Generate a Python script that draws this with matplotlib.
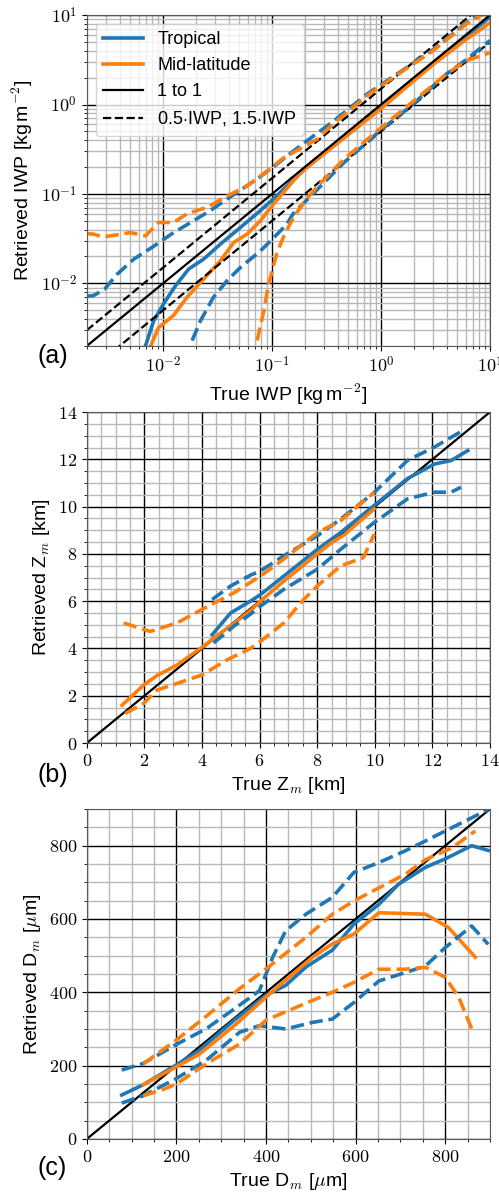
import matplotlib
matplotlib.use("Agg")
import matplotlib.pyplot as plt
import numpy as np
from matplotlib.ticker import (LogLocator, MultipleLocator, FuncFormatter,
                               NullFormatter)

plt.rcParams["font.family"] = ["Liberation Sans", "DejaVu Sans"]
plt.rcParams["mathtext.fontset"] = "cm"

BLUE = "#1f77b4"
ORANGE = "#ff7f0e"

# ---- panel (a): IWP [kg m-2]
a_trop_med_x = [0.0069, 0.0082, 0.0101, 0.013, 0.0172, 0.0236, 0.0336, 0.051, 0.078, 0.1, 0.2, 0.5, 1, 2, 5, 10]
a_trop_med_y = [0.002, 0.0038, 0.0059, 0.0094, 0.0145, 0.0187, 0.0275, 0.042, 0.065, 0.085, 0.19, 0.47, 0.93, 1.9, 4.8, 9.5]
a_mid_med_x = [0.0077, 0.0091, 0.0125, 0.0166, 0.0228, 0.0336, 0.0446, 0.059, 0.078, 0.104, 0.18, 0.26, 0.5, 1, 3, 6, 10]
a_mid_med_y = [0.002, 0.0032, 0.0044, 0.007, 0.0107, 0.0179, 0.0287, 0.0356, 0.05, 0.078, 0.17, 0.245, 0.46, 0.9, 2.8, 5.3, 8.2]
a_trop_up_x = [0.002, 0.0023, 0.0029, 0.0038, 0.0054, 0.0082, 0.0125, 0.019, 0.027, 0.041, 0.073, 0.111, 0.156, 0.237, 0.36, 0.74, 1.49, 3.0, 6.1, 8.1, 10]
a_trop_up_y = [0.0072, 0.0073, 0.0086, 0.0127, 0.0187, 0.026, 0.037, 0.05, 0.065, 0.092, 0.147, 0.216, 0.30, 0.44, 0.64, 1.3, 2.3, 4.1, 8.2, 10.5, 12]
a_mid_up_x = [0.002, 0.0023, 0.0028, 0.005, 0.0069, 0.0091, 0.0125, 0.0166, 0.0254, 0.0387, 0.059, 0.09, 0.126, 0.18, 0.26, 0.36, 0.74, 1.49, 3.0, 6.1, 8.1, 10]
a_mid_up_y = [0.036, 0.0356, 0.033, 0.037, 0.034, 0.048, 0.048, 0.060, 0.071, 0.095, 0.123, 0.18, 0.25, 0.32, 0.41, 0.6, 1.25, 2.25, 4.0, 8.0, 9.8, 11]
a_trop_lo_x = [0.0185, 0.022, 0.029, 0.0386, 0.051, 0.078, 0.1, 0.137, 0.156, 0.237, 0.45, 1, 1.84, 4.0, 6.1, 10]
a_trop_lo_y = [0.0023, 0.0038, 0.007, 0.0107, 0.015, 0.023, 0.031, 0.046, 0.06, 0.1, 0.22, 0.52, 0.94, 2.2, 3.2, 5.2]
a_mid_lo_x = [0.073, 0.084, 0.093, 0.111, 0.126, 0.156, 0.21, 0.275, 0.45, 1, 2, 4, 6.1, 10]
a_mid_lo_y = [0.0023, 0.0049, 0.0098, 0.022, 0.032, 0.054, 0.09, 0.13, 0.24, 0.55, 1.1, 2.2, 3.1, 3.8]

# ---- panel (b): Z_m [km]
b_trop_med_x = [4.35, 4.99, 5.68, 6.03, 6.84, 8.0, 8.81, 9.98, 11.14, 12.07, 12.65, 13.23]
b_trop_med_y = [4.58, 5.50, 6.0, 6.28, 7.06, 8.19, 8.9, 10.05, 11.19, 11.8, 11.95, 12.37]
b_mid_med_x = [1.22, 1.97, 2.43, 3.13, 4.0, 4.52, 5.1, 5.68, 6.03, 6.84, 8.0, 8.47, 8.93, 9.4, 9.98]
b_mid_med_y = [1.60, 2.45, 2.85, 3.3, 4.05, 4.55, 5.05, 5.6, 6.0, 6.85, 8.0, 8.45, 8.8, 9.3, 9.9]
b_trop_up_x = [4.35, 4.99, 5.68, 6.03, 6.84, 8.0, 8.81, 9.98, 11.14, 12.07, 12.99]
b_trop_up_y = [6.07, 6.64, 7.1, 7.28, 7.92, 8.76, 9.47, 10.6, 11.96, 12.52, 13.17]
b_trop_lo_x = [4.4, 5.1, 5.68, 6.03, 6.84, 8.0, 8.81, 9.98, 11.14, 12.07, 12.65, 12.99]
b_trop_lo_y = [4.23, 4.94, 5.45, 5.79, 6.5, 7.35, 8.19, 9.33, 10.33, 10.61, 10.61, 10.82]
b_mid_up_x = [1.28, 2.2, 3.13, 4.0, 5.1, 6.03, 6.84, 8.0, 8.81, 9.98]
b_mid_up_y = [5.08, 4.72, 5.08, 5.65, 6.35, 7.06, 7.78, 8.9, 9.4, 10.6]
b_mid_lo_x = [1.33, 1.97, 2.43, 3.13, 4.0, 4.87, 5.68, 6.03, 6.84, 7.53, 8.0, 8.81, 9.6, 9.98]
b_mid_lo_y = [1.25, 1.67, 2.24, 2.52, 2.88, 3.52, 4.0, 4.3, 5.08, 6.07, 6.64, 7.49, 7.84, 8.84]

# ---- panel (c): D_m [um]
c_trop_med_x = [78, 126, 200, 252, 330, 400, 444, 489, 548, 596, 652, 696, 756, 800, 859, 896]
c_trop_med_y = [120, 148, 202, 243, 325, 392, 419, 469, 515, 586, 640, 695, 741, 764, 800, 787]
c_mid_med_x = [126, 200, 252, 330, 400, 452, 504, 548, 596, 652, 756, 807, 867]
c_mid_med_y = [148, 197, 232, 310, 387, 442, 496, 532, 559, 617, 613, 577, 496]
c_trop_up_x = [78, 126, 200, 267, 341, 385, 415, 444, 489, 548, 596, 652, 711, 756, 800, 859, 896]
c_trop_up_y = [188, 206, 258, 301, 365, 404, 496, 568, 613, 659, 727, 754, 786, 813, 840, 876, 899]
c_trop_lo_x = [78, 126, 200, 267, 341, 385, 444, 504, 548, 596, 652, 711, 756, 800, 859, 896]
c_trop_lo_y = [98, 118, 165, 215, 291, 309, 300, 318, 327, 372, 431, 454, 472, 522, 581, 531]
c_mid_up_x = [126, 200, 267, 341, 400, 489, 548, 596, 652, 711, 756, 815, 867]
c_mid_up_y = [205, 270, 335, 410, 464, 550, 613, 649, 685, 722, 762, 794, 840]
c_mid_lo_x = [126, 170, 200, 267, 341, 400, 452, 504, 548, 596, 652, 711, 756, 800, 830, 859]
c_mid_lo_y = [118, 135, 150, 205, 259, 324, 351, 378, 400, 427, 463, 463, 468, 441, 387, 301]

LW_MED = 2.6
LW_Q = 2.6
LW_REF = 1.6
TICK_FS = 13
LABEL_FS = 14

fig = plt.figure(figsize=(4.99, 11.95), dpi=100)
left, width = 0.174, 0.808
ax_a = fig.add_axes([left, 0.7105, width, 0.2769])
ax_b = fig.add_axes([left, 0.3782, width, 0.2770])
ax_c = fig.add_axes([left, 0.0469, width, 0.2761])

num_fmt = FuncFormatter(lambda v, p: r"$%g$" % v)
log_fmt = FuncFormatter(lambda v, p: r"$10^{%d}$" % int(round(np.log10(v))))


def style(ax):
    ax.grid(True, which="major", color="black", lw=1.0)
    ax.grid(True, which="minor", color="0.72", lw=1.0)
    ax.set_axisbelow(True)
    ax.tick_params(labelsize=TICK_FS)
    for s in ax.spines.values():
        s.set_color("0.35")


# (a)
ax = ax_a
ax.set_xscale("log")
ax.set_yscale("log")
ref = np.array([0.002, 10.0])
ax.plot(a_trop_med_x, a_trop_med_y, color=BLUE, lw=LW_MED, label="Tropical")
ax.plot(a_mid_med_x, a_mid_med_y, color=ORANGE, lw=LW_MED, label="Mid-latitude")
ax.plot(ref, ref, color="black", lw=LW_REF, label="1 to 1")
ax.plot(ref, 0.5 * ref, color="black", lw=LW_REF, ls="--", label=r"0.5$\cdot$IWP, 1.5$\cdot$IWP")
ax.plot(ref, 1.5 * ref, color="black", lw=LW_REF, ls="--")
ax.plot(a_trop_up_x, a_trop_up_y, color=BLUE, lw=LW_Q, ls="--")
ax.plot(a_trop_lo_x, a_trop_lo_y, color=BLUE, lw=LW_Q, ls="--")
ax.plot(a_mid_up_x, a_mid_up_y, color=ORANGE, lw=LW_Q, ls="--")
ax.plot(a_mid_lo_x, a_mid_lo_y, color=ORANGE, lw=LW_Q, ls="--")
ax.set_xlim(0.002, 10)
ax.set_ylim(0.002, 10)
for axis in (ax.xaxis, ax.yaxis):
    axis.set_major_locator(LogLocator(base=10))
    axis.set_minor_locator(LogLocator(base=10, subs=np.arange(2, 10)))
    axis.set_major_formatter(log_fmt)
    axis.set_minor_formatter(NullFormatter())
style(ax)
ax.set_xlabel(r"True IWP [kg$\,$m$^{\mathsf{-2}}$]", fontsize=LABEL_FS)
ax.set_ylabel(r"Retrieved IWP [kg$\,$m$^{\mathsf{-2}}$]", fontsize=LABEL_FS)
ax.legend(loc="upper left", fontsize=13, handlelength=2.2, framealpha=0.8,
          edgecolor="0.8")
ax.text(-0.122, -0.03, "(a)", transform=ax.transAxes, fontsize=18,
        ha="left", va="center")

# (b)
ax = ax_b
ax.plot([0, 14], [0, 14], color="black", lw=LW_REF)
ax.plot(b_trop_med_x, b_trop_med_y, color=BLUE, lw=LW_MED)
ax.plot(b_mid_med_x, b_mid_med_y, color=ORANGE, lw=LW_MED)
ax.plot(b_trop_up_x, b_trop_up_y, color=BLUE, lw=LW_Q, ls="--")
ax.plot(b_trop_lo_x, b_trop_lo_y, color=BLUE, lw=LW_Q, ls="--")
ax.plot(b_mid_up_x, b_mid_up_y, color=ORANGE, lw=LW_Q, ls="--")
ax.plot(b_mid_lo_x, b_mid_lo_y, color=ORANGE, lw=LW_Q, ls="--")
ax.set_xlim(0, 14)
ax.set_ylim(0, 14)
for axis in (ax.xaxis, ax.yaxis):
    axis.set_major_locator(MultipleLocator(2))
    axis.set_minor_locator(MultipleLocator(0.5))
    axis.set_major_formatter(num_fmt)
style(ax)
ax.set_xlabel(r"True Z$_{m}$ [km]", fontsize=LABEL_FS)
ax.set_ylabel(r"Retrieved Z$_{m}$ [km]", fontsize=LABEL_FS)
ax.text(-0.122, -0.097, "(b)", transform=ax.transAxes, fontsize=18,
        ha="left", va="center")

# (c)
ax = ax_c
ax.plot([0, 900], [0, 900], color="black", lw=LW_REF)
ax.plot(c_trop_med_x, c_trop_med_y, color=BLUE, lw=LW_MED)
ax.plot(c_mid_med_x, c_mid_med_y, color=ORANGE, lw=LW_MED)
ax.plot(c_trop_up_x, c_trop_up_y, color=BLUE, lw=LW_Q, ls="--")
ax.plot(c_trop_lo_x, c_trop_lo_y, color=BLUE, lw=LW_Q, ls="--")
ax.plot(c_mid_up_x, c_mid_up_y, color=ORANGE, lw=LW_Q, ls="--")
ax.plot(c_mid_lo_x, c_mid_lo_y, color=ORANGE, lw=LW_Q, ls="--")
ax.set_xlim(0, 900)
ax.set_ylim(0, 900)
for axis in (ax.xaxis, ax.yaxis):
    axis.set_major_locator(MultipleLocator(200))
    axis.set_minor_locator(MultipleLocator(50))
    axis.set_major_formatter(num_fmt)
style(ax)
ax.set_xlabel(r"True D$_{m}$ [$\mu$m]", fontsize=LABEL_FS)
ax.set_ylabel(r"Retrieved D$_{m}$ [$\mu$m]", fontsize=LABEL_FS)
ax.text(-0.122, -0.088, "(c)", transform=ax.transAxes, fontsize=18,
        ha="left", va="center")

fig.savefig("out.png", dpi=100)
plt.close(fig)
